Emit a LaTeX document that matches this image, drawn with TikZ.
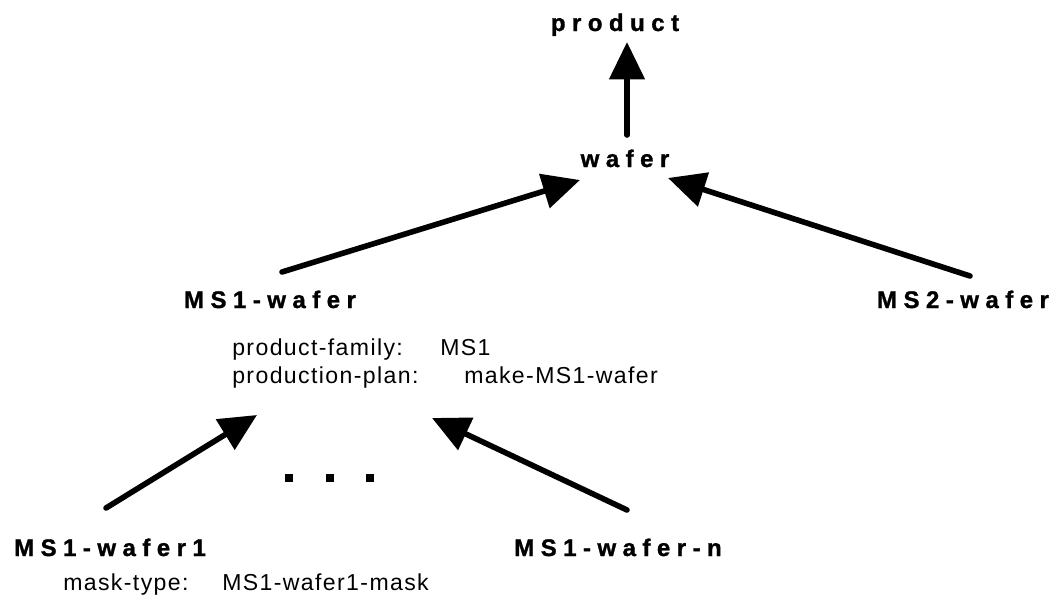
\documentclass[tikz,border=0pt]{standalone}
\usepackage{fontspec}
\setmainfont{Liberation Sans}
\newfontfamily\lblfont[LetterSpace=27,FakeBold=1.2]{Liberation Sans Bold}
\newfontfamily\attfont[LetterSpace=6]{Liberation Sans}
\usetikzlibrary{arrows.meta,calc}
\begin{document}
\begin{tikzpicture}[x=0.75pt,y=-0.75pt,
  lbl/.style={font=\lblfont\fontsize{18}{21}\selectfont, inner sep=0pt, anchor=base},
  att/.style={font=\attfont\fontsize{17.3}{20}\selectfont, inner sep=0pt, anchor=base west},
  arr/.style={line width=4.2pt, line cap=round, -{Triangle[length=28pt,width=26pt]}}]
\useasboundingbox (0,0) rectangle (1053,597);
% class nodes
\node[lbl] (product) at (615,31) {product};
\node[lbl] (wafer) at (625,167) {wafer};
\node[lbl] (ms1) at (270,308) {MS1-wafer};
\node[lbl] (ms2) at (963,308) {MS2-wafer};
\node[lbl] (ms1w1) at (110,556) {MS1-wafer1};
\node[lbl] (ms1wn) at (618,556) {MS1-wafer-n};
% attributes
\node[att] (pfk) at (232,355) {product-family:};
\node[att] (pfv) at (440,355) {MS1};
\node[att] (ppk) at (232,383) {production-plan:};
\node[att] (ppv) at (464,383) {make-MS1-wafer};
\node[att] (mtk) at (63,590) {mask-type:};
\node[att] (mtv) at (222,590) {MS1-wafer1-mask};
% connectors
\draw[arr] ($(wafer.base)+(2,-32)$) -- ($(product.base)+(12,11)$);
\draw[arr] ($(ms1.base)+(12,-36)$) -- ($(wafer.base)+(-45,13)$);
\draw[arr] ($(ms2.base)+(7,-32)$) -- ($(wafer.base)+(43,11)$);
\draw[arr] ($(ms1w1.base)+(-4,-48)$) -- ($(ms1.base)+(-13,107)$);
\draw[arr] ($(ms1wn.base)+(9,-46)$) -- ($(ms1.base)+(162,110)$);
% ellipsis
\foreach \x in {289,330,370} \fill (\x-4,474) rectangle (\x+4,482);
\end{tikzpicture}
\end{document}
